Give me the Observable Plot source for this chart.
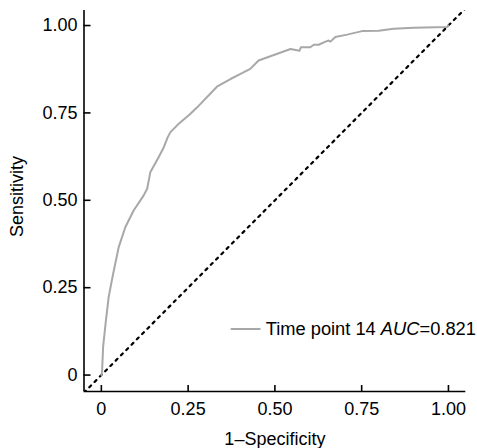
<!DOCTYPE html>
<html>
<head>
<meta charset="utf-8">
<script src="https://cdn.jsdelivr.net/npm/d3@7"></script>
<script src="https://cdn.jsdelivr.net/npm/@observablehq/plot@0.6"></script>
<style>
  html, body { margin: 0; padding: 0; background: #fff; }
  #chart { position: relative; width: 477px; height: 448px; }
</style>
</head>
<body>
<div id="chart"></div>
<script>
// ROC curve (1-Specificity, Sensitivity)
const fpr = [0, 0.002, 0.005, 0.012, 0.021, 0.034, 0.050, 0.069, 0.093, 0.122, 0.132, 0.141, 0.165, 0.180, 0.191, 0.199, 0.223, 0.256, 0.276, 0.333, 0.372, 0.401, 0.429, 0.453, 0.487, 0.545, 0.571, 0.575, 0.602, 0.612, 0.626, 0.646, 0.655, 0.660, 0.674, 0.708, 0.751, 0.799, 0.842, 0.900, 0.996, 1];
const tpr = [0, 0.008, 0.080, 0.146, 0.223, 0.290, 0.366, 0.423, 0.471, 0.514, 0.533, 0.580, 0.623, 0.652, 0.680, 0.695, 0.719, 0.747, 0.766, 0.825, 0.847, 0.862, 0.876, 0.900, 0.912, 0.933, 0.928, 0.938, 0.938, 0.945, 0.945, 0.954, 0.957, 0.954, 0.967, 0.974, 0.984, 0.985, 0.991, 0.994, 0.996, 1];

const xTicks = [0, 0.25, 0.5, 0.75, 1];
const yTicks = [0, 0.25, 0.5, 0.75, 1];
const tickLabels = ["0", "0.25", "0.50", "0.75", "1.00"];
const xDomain = [-0.05, 1.05];
const yDomain = [-0.047, 1.043];
const diagonal = [-0.05, 1.05];

const legendLabel = "Time point 14";
const aucValue = "0.821";
const xTitle = "1\u2013Specificity";
const yTitle = "Sensitivity";

const points = fpr.map((x, i) => ({fpr: x, tpr: tpr[i]}));
const fmt = d => tickLabels[xTicks.indexOf(d)];

const W = 477, H = 448;
const mL = 83.5, mR = 11.7, mT = 10, mB = 57;

const chart = Plot.plot({
  width: W,
  height: H,
  marginLeft: mL,
  marginRight: mR,
  marginTop: mT,
  marginBottom: mB,
  style: {fontFamily: "'Liberation Sans', Arial, Helvetica, sans-serif", fontSize: "18px", color: "black", background: "white", overflow: "visible"},
  x: {domain: xDomain, label: null},
  y: {domain: yDomain, label: null},
  marks: [
    Plot.axisX({ticks: xTicks, tickFormat: fmt, tickSize: -6, tickPadding: 16.5, strokeWidth: 1.6, label: null, fontSize: 18}),
    Plot.axisY({ticks: yTicks, tickFormat: fmt, tickSize: -7, tickPadding: 13.5, strokeWidth: 1.6, label: null, fontSize: 18}),
    Plot.ruleX([xDomain[0]], {stroke: "black", strokeWidth: 1.6}),
    Plot.ruleY([yDomain[0]], {stroke: "black", strokeWidth: 1.6}),
    Plot.line(diagonal, {x: d => d, y: d => d, stroke: "black", strokeWidth: 2.2, strokeDasharray: "2.5,5", clip: true}),
    Plot.line(points, {x: "fpr", y: "tpr", stroke: "#a8a8a8", strokeWidth: 2}),
    Plot.text([xTitle], {text: d => d, frameAnchor: "bottom", textAnchor: "middle", dy: 41, lineAnchor: "top", fontSize: 18}),
    Plot.text([yTitle], {text: d => d, frameAnchor: "left", textAnchor: "middle", rotate: -90, dx: -67, dy: -4.5, fontSize: 18})
  ]
});

// Legend inside the panel (line sample + text with italic AUC)
const svg = d3.select(chart);
const lg = svg.append("g").attr("class", "legend");
lg.append("line")
  .attr("x1", 230.7).attr("x2", 260.5).attr("y1", 329).attr("y2", 329)
  .attr("stroke", "#a8a8a8").attr("stroke-width", 2);
const t = lg.append("text")
  .attr("x", 265.7).attr("y", 335)
  .attr("text-anchor", "start")
  .attr("font-size", 18.3).attr("fill", "black");
t.append("tspan").text(legendLabel + " ");
t.append("tspan").attr("font-style", "italic").text("AUC");
t.append("tspan").text("=" + aucValue);

document.getElementById("chart").appendChild(chart);
</script>
</body>
</html>
